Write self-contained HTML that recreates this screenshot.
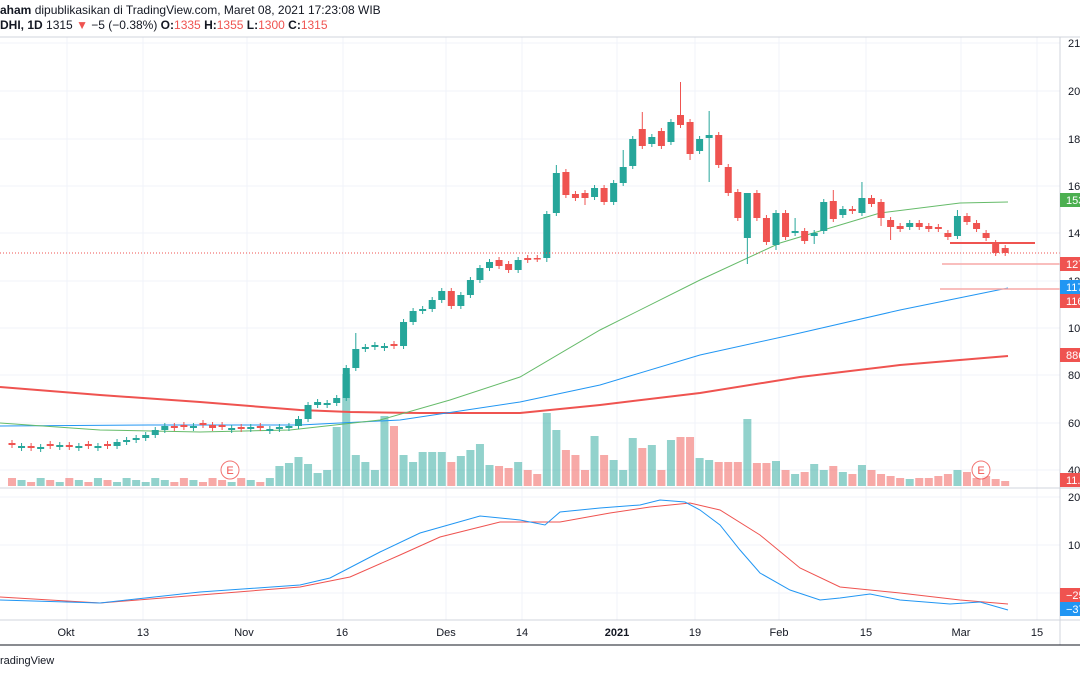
<!DOCTYPE html>
<html><head><meta charset="utf-8"><style>
html,body{margin:0;padding:0;background:#fff;width:1080px;height:675px;overflow:hidden;font-family:"Liberation Sans",sans-serif}
svg{position:absolute;left:0;top:0}
</style></head><body>
<svg id="s" width="1080" height="675" xmlns="http://www.w3.org/2000/svg" font-family="Liberation Sans, sans-serif"></svg>
<script>
const S=document.getElementById('s');let h='';
const G='#26a69a',R='#ef5350';
[67,143,247,343,446,522,617,695,779,866,961,1037].forEach(x=>h+=`<line x1="${x}" y1="37" x2="${x}" y2="620" stroke="#f0f3fa"/>`);
[43,91,139,186,233,281,328,375,423,470,497,545,593].forEach(y=>h+=`<line x1="0" y1="${y}" x2="1060" y2="${y}" stroke="#f0f3fa"/>`);
const N=105,X=i=>12+i*9.55;
const c=[445,446,448,447,446,445,447,446,446,446,446,442,440,438,435,430,426,428,427,426,425,428,427,428,429,427,428,429,427,426,419,405,402,403,398,368,349,347,345,346,346,322,311,309,300,291,306,295,280,268,262];
let K=[];
for(let i=0;i<=50;i++){let o=i?c[i-1]:445,cl=c[i];if(Math.abs(o-cl)<2)o=cl+(i%2?2:-2);K.push([o,cl]);}
const z=[['R',260,266],['R',264,270],['G',260,270],['R',258,260],['R',258,259],['G',214,258],['G',173,213],['R',172,195],['R',194,198],['R',193,198],['G',188,197],['R',188,202],['G',183,202],['G',167,183],['G',139,166],['R',129,146],['G',137,144],['R',131,146],['G',122,142],['R',115,125],['R',122,154],['G',139,151],['G',135,138],['R',135,165],['R',167,193],['R',192,218],['G',193,238],['R',193,218],['R',218,242],['G',213,245],['R',213,237],['G',231,233],['R',231,241],['G',233,236],['G',202,231],['R',201,219],['G',209,215],['R',209,211],['G',198,213],['R',198,204],['R',202,218],['R',220,227],['R',226,229],['G',223,227],['R',223,227],['R',226,229],['R',227,229],['R',233,237],['G',216,236],['R',216,222],['R',223,229],['R',233,238],['R',243,253],['R',248,253]];
z.forEach(([t,a,b])=>K.push(t=='R'?[a,b]:[b,a]));
const hi={36:333,57:165,70:82,73:111,66:112,64:150,89:182,86:190,77:193,99:210,82:218};
const lo={73:182,77:264,71:160,60:205,56:262,80:250,84:244,91:226,92:240};
const vol={28:466,29:463,30:457,31:464,32:473,33:470,34:427,35:374,36:455,37:462,38:470,39:416,40:426,41:455,42:462,43:452,44:452,45:452,46:462,47:456,48:450,49:444,50:465,51:466,52:468,53:462,54:470,55:474,56:413,57:430,58:450,59:455,60:470,61:436,62:455,63:460,64:470,65:438,66:448,67:445,68:470,69:440,70:437,71:437,72:458,73:460,74:462,75:462,76:462,77:419,78:463,79:463,80:461,81:470,82:474,83:472,84:464,85:470,86:466,87:472,88:474,89:465,90:470,91:474,92:476,93:478,94:479,95:478,96:478,97:476,98:474,99:470,100:472,101:478,102:476,103:479,104:481};
K.forEach(([o,cl],i)=>{const x=X(i),col=cl>o?R:G;const top=vol[i]||(478+(i%3)*2);h+=`<rect x="${x-4}" y="${top}" width="8" height="${486-top}" fill="${col}" opacity="0.5"/>`;});
const pl=(p,col,w)=>h+=`<polyline points="${p}" fill="none" stroke="${col}" stroke-width="${w}"/>`;
pl('0,387 100,395 200,402 300,410 350,412 420,413 520,413 600,405 700,393 800,377 900,365 1008,356',R,2);
pl('0,426 150,425 300,425 400,420 520,402 600,385 700,355 800,333 900,310 1008,288','#2196f3',1);
pl('0,423 100,430 200,432 290,430 380,420 450,400 520,377 600,330 700,280 780,243 880,213 960,203 1008,202','#66bb6a',1);
K.forEach(([o,cl],i)=>{const x=X(i),col=cl>o?R:G,t=Math.min(o,cl),b=Math.max(o,cl);
h+=`<line x1="${x}" y1="${hi[i]||t-3}" x2="${x}" y2="${lo[i]||b+3}" stroke="${col}"/><rect x="${x-3.5}" y="${t}" width="7" height="${Math.max(b-t,1.5)}" fill="${col}"/>`;});
h+=`<line x1="0" y1="253" x2="1060" y2="253" stroke="${R}" stroke-dasharray="1,2"/>`;
h+=`<line x1="950" y1="243" x2="1035" y2="243" stroke="${R}" stroke-width="2"/>`;
h+=`<line x1="942" y1="264" x2="1060" y2="264" stroke="#f7a9a7" stroke-width="1.5"/><line x1="940" y1="289" x2="1060" y2="289" stroke="#f7a9a7" stroke-width="1.5"/>`;
[[230,470],[981,470]].forEach(([x,y])=>h+=`<circle cx="${x}" cy="${y}" r="9" fill="#fff" stroke="${R}" opacity="0.8"/><text x="${x}" y="${y+4}" font-size="11" fill="${R}" text-anchor="middle">E</text>`);
pl('0,597 100,603 200,595 300,587 350,577 400,555 440,537 500,522 560,522 610,513 650,507 690,503 720,510 760,535 800,568 840,587 900,593 960,600 1008,604',R,1);
pl('0,600 100,603 200,592 300,585 330,578 380,552 420,533 480,516 520,520 545,525 560,512 600,508 640,505 660,500 685,502 700,510 720,525 740,550 760,573 790,590 820,600 840,598 870,594 900,600 950,604 980,602 1008,610','#2196f3',1);
h+=`<line x1="0" y1="37" x2="1080" y2="37" stroke="#d1d4dc"/><line x1="0" y1="488" x2="1080" y2="488" stroke="#d1d4dc"/><line x1="0" y1="620" x2="1080" y2="620" stroke="#d1d4dc"/><line x1="1060" y1="37" x2="1060" y2="645" stroke="#d1d4dc"/><line x1="0" y1="645" x2="1080" y2="645" stroke="#131722"/>`;
[[43,'2100'],[91,'2000'],[139,'1800'],[186,'1600'],[233,'1400'],[281,'1200'],[328,'1000'],[375,'800'],[423,'600'],[470,'400'],[497,'200'],[545,'100']].forEach(([y,t])=>h+=`<text x="1068" y="${y+4}" font-size="11" fill="#131722">${t}</text>`);
[[200,'#4caf50','1530'],[264,R,'1270'],[287,'#2196f3','1170'],[301,R,'1160'],[355,R,'886'],[480,R,'11.0'],[595,R,'−25'],[609,'#2196f3','−37']].forEach(([y,col,t])=>h+=`<rect x="1060" y="${y-7}" width="20" height="14" fill="${col}"/><text x="1066" y="${y+4}" font-size="11" fill="#fff">${t}</text>`);
[[66,'Okt'],[143,'13'],[244,'Nov'],[342,'16'],[446,'Des'],[522,'14'],[617,'2021'],[695,'19'],[779,'Feb'],[866,'15'],[961,'Mar'],[1037,'15']].forEach(([x,t])=>h+=`<text x="${x}" y="636" font-size="11" fill="#131722" text-anchor="middle" ${t=='2021'?'font-weight="bold"':''}>${t}</text>`);
h+=`<text x="0" y="14" font-size="12" fill="#131722"><tspan font-weight="bold">aham</tspan> dipublikasikan di TradingView.com, Maret 08, 2021 17:23:08 WIB</text>`;
h+=`<text x="0" y="29" font-size="12" fill="#131722"><tspan font-weight="bold">DHI, 1D</tspan>  1315 <tspan fill="${R}">▼</tspan> −5 (−0.38%) <tspan font-weight="bold">O:</tspan><tspan fill="${R}">1335</tspan> <tspan font-weight="bold">H:</tspan><tspan fill="${R}">1355</tspan> <tspan font-weight="bold">L:</tspan><tspan fill="${R}">1300</tspan> <tspan font-weight="bold">C:</tspan><tspan fill="${R}">1315</tspan></text>`;
h+=`<text x="0" y="664" font-size="11" fill="#131722">radingView</text>`;
S.innerHTML=h;
</script>
</body></html>
